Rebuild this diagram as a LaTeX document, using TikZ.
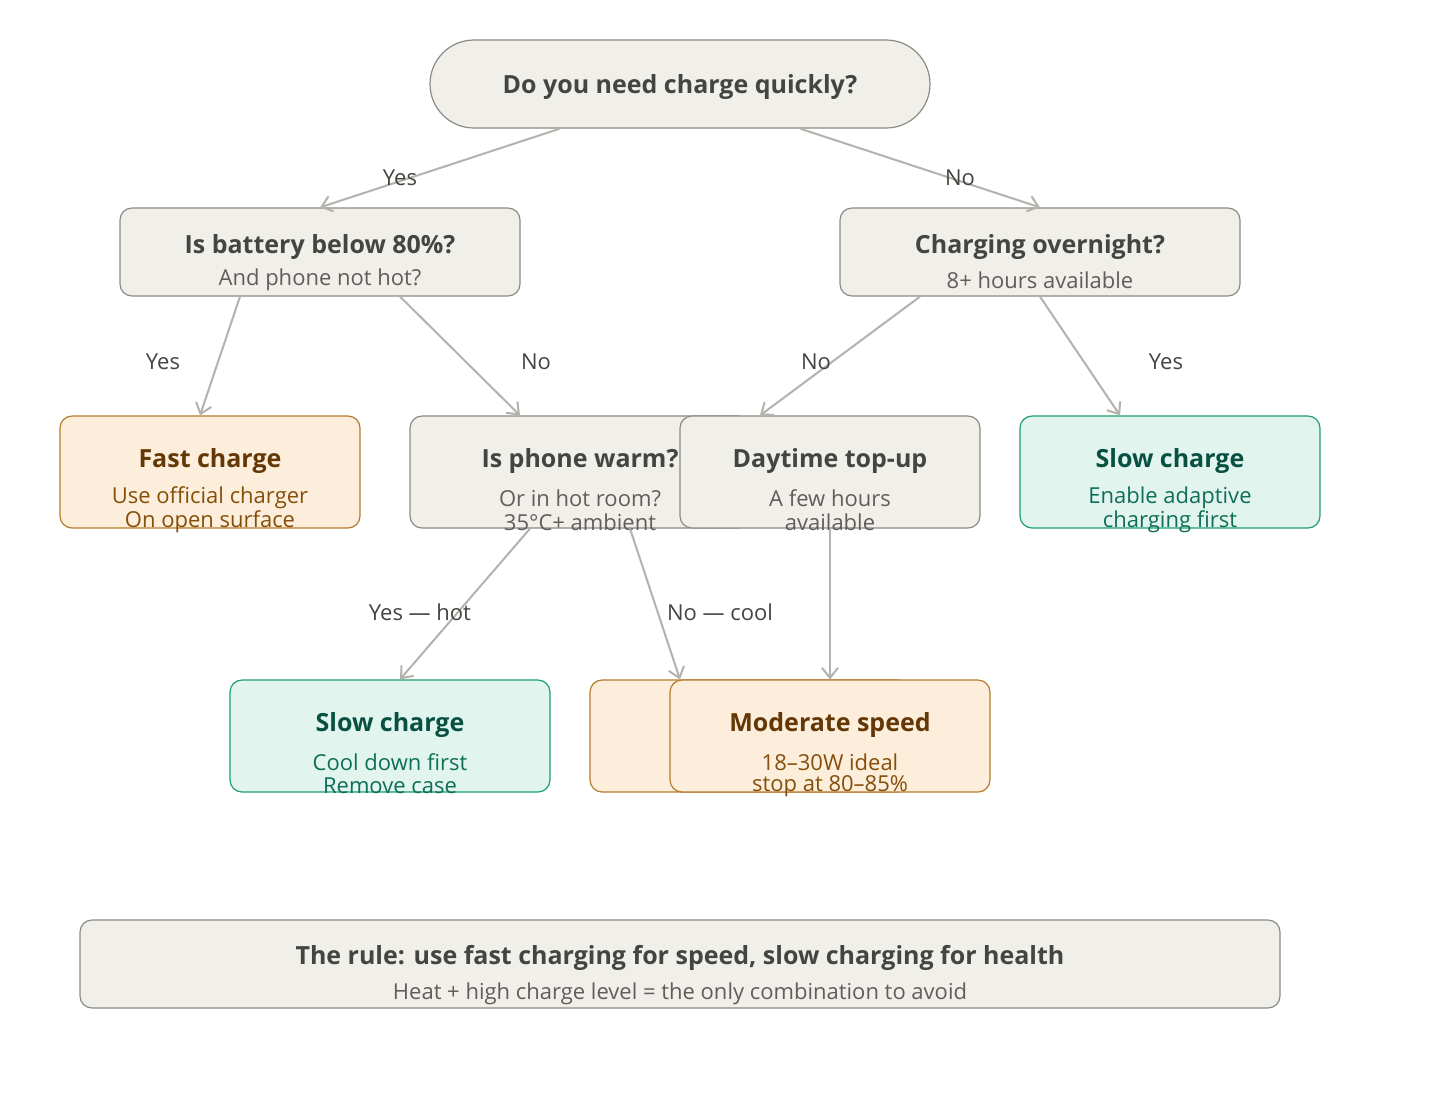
\documentclass[tikz,border=0pt]{standalone}
\usepackage{fontspec}
\setmainfont{Open Sans}
\usetikzlibrary{arrows.meta,calc}
\definecolor{greyfill}{HTML}{F0EFEA}
\definecolor{greyline}{HTML}{8C8B85}
\definecolor{greytext}{HTML}{444441}
\definecolor{greysub}{HTML}{5F5E5A}
\definecolor{orfill}{HTML}{FCEEDB}
\definecolor{orline}{HTML}{B57B2E}
\definecolor{ortext}{HTML}{633806}
\definecolor{orsub}{HTML}{854F0B}
\definecolor{grfill}{HTML}{E1F5EE}
\definecolor{grline}{HTML}{1D9E75}
\definecolor{grtext}{HTML}{085041}
\definecolor{grsub}{HTML}{0F6E56}
\definecolor{edge}{HTML}{B4B2AC}

\tikzset{
  box/.style={draw, line width=0.6pt, rounded corners=6pt, inner sep=0pt},
  greybox/.style={box, draw=greyline, fill=greyfill},
  orbox/.style={box, draw=orline, fill=orfill},
  grbox/.style={box, draw=grline, fill=grfill},
  ttl/.style={font=\fontsize{12.5}{14}\selectfont\bfseries},
  sub/.style={font=\fontsize{11}{13}\selectfont},
  lbl/.style={font=\fontsize{11}{13}\selectfont, text=greytext},
  arr/.style={draw=edge, line width=1pt, -{Straight Barb[length=5pt,width=8pt]}},
}

\begin{document}
\begin{tikzpicture}[x=0.5pt,y=-0.5pt]
        \useasboundingbox[fill=white] (0,0) rectangle (1440,1100);

        % question at the top
        \node[greybox, rounded corners=22pt, minimum width=250pt, minimum height=44pt] (q) at (680,84) {};
        \node[ttl, text=greytext] (qt) at (680,87) {Do you need charge quickly?};

        % second row
        \node[greybox, minimum width=200pt, minimum height=44pt] (batt) at (320,252) {};
        \node[ttl, text=greytext] (battt) at (320,247) {Is battery below 80\%?};
        \node[sub, text=greysub] (batts) at (320,280) {And phone not hot?};

        \node[greybox, minimum width=200pt, minimum height=44pt] (night) at (1040,252) {};
        \node[ttl, text=greytext] (nightt) at (1040,247) {Charging overnight?};
        \node[sub, text=greysub] (nights) at (1040,280) {8+ hours available};

        % third row
        \node[orbox, minimum width=150pt, minimum height=56pt] (fast) at (210,472) {};
        \node[ttl, text=ortext] (fastt) at (210,461) {Fast charge};
        \node[sub, text=orsub] (fasts1) at (210,498) {Use official charger};
        \node[sub, text=orsub] (fasts2) at (210,522) {On open surface};

        \node[greybox, minimum width=170pt, minimum height=56pt] (warm) at (580,472) {};
        \node[ttl, text=greytext] (warmt) at (580,461) {Is phone warm?};
        \node[sub, text=greysub] (warms1) at (580,498) {Or in hot room?};
        \node[sub, text=greysub] (warms2) at (580,522) {35°C+ ambient};

        \node[greybox, minimum width=150pt, minimum height=56pt] (day) at (830,472) {};
        \node[ttl, text=greytext] (dayt) at (830,461) {Daytime top-up};
        \node[sub, text=greysub] (days1) at (830,498) {A few hours};
        \node[sub, text=greysub] (days2) at (830,522) {available};

        \node[grbox, minimum width=150pt, minimum height=56pt] (slowa) at (1170,472) {};
        \node[ttl, text=grtext] (slowat) at (1170,461) {Slow charge};
        \node[sub, text=grsub] (slowas1) at (1170,498) {Enable adaptive};
        \node[sub, text=grsub] (slowas2) at (1170,522) {charging first};

        % fourth row
        \node[grbox, minimum width=160pt, minimum height=56pt] (slowb) at (390,736) {};
        \node[ttl, text=grtext] (slowbt) at (390,725) {Slow charge};
        \node[sub, text=grsub] (slowbs1) at (390,762) {Cool down first};
        \node[sub, text=grsub] (slowbs2) at (390,786) {Remove case};

        \node[orbox, minimum width=160pt, minimum height=56pt] (modb) at (750,736) {};
        \node[orbox, minimum width=160pt, minimum height=56pt] (mod) at (830,736) {};
        \node[ttl, text=ortext] (modt) at (830,725) {Moderate speed};
        \node[sub, text=orsub] (mods1) at (830,762) {18–30W ideal};
        \node[sub, text=orsub] (mods2) at (830,786) {stop at 80–85\%};

        % the rule at the bottom
        \node[greybox, minimum width=600pt, minimum height=44pt] (rule) at (680,964) {};
        \node[ttl, text=greytext] (rulet) at (680,958) {The rule: use fast charging for speed, slow charging for health};
        \node[sub, text=greysub] (rules) at (680,994) {Heat + high charge level = the only combination to avoid};

        % connectors
        \draw[arr] ($(q.south)+(-60pt,0)$) -- (batt.north);
        \draw[arr] ($(q.south)+(60pt,0)$) -- (night.north);
        \draw[arr] ($(batt.south)+(-40pt,0)$) -- ($(fast.north)+(-5pt,0)$);
        \draw[arr] ($(batt.south)+(40pt,0)$) -- ($(warm.north)+(-30pt,0)$);
        \draw[arr] ($(night.south)+(-60pt,0)$) -- ($(day.north)+(-35pt,0)$);
        \draw[arr] (night.south) -- ($(slowa.north)+(-25pt,0)$);
        \draw[arr] ($(warm.south)+(-25pt,0)$) -- ($(slowb.north)+(5pt,0)$);
        \draw[arr] ($(warm.south)+(25pt,0)$) -- ($(modb.north)+(-35pt,0)$);
        \draw[arr] (day.south) -- (mod.north);

        % labels
        \node[lbl] (l1) at (400,178) {Yes};
        \node[lbl] (l2) at (960,178) {No};
        \node[lbl] (l3) at (163,362) {Yes};
        \node[lbl] (l4) at (536,362) {No};
        \node[lbl] (l5) at (816,362) {No};
        \node[lbl] (l6) at (1166,362) {Yes};
        \node[lbl] (l7) at (420,612) {Yes — hot};
        \node[lbl] (l8) at (720,612) {No — cool};
\end{tikzpicture}
\end{document}
